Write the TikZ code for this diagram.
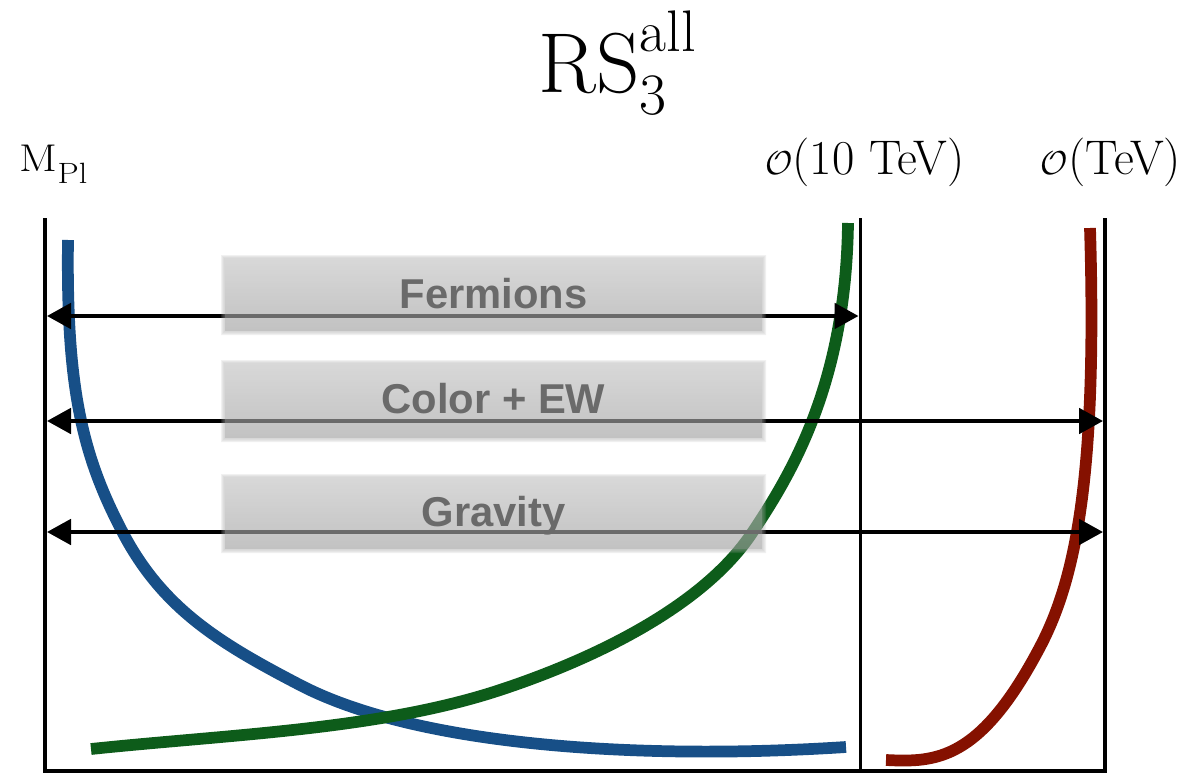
\documentclass[tikz,border=0pt]{standalone}
\usepackage{fontspec}
\newfontfamily\hvfont{Liberation Sans}
\usetikzlibrary{arrows.meta}
\definecolor{bluec}{RGB}{23,79,135}
\definecolor{greenc}{RGB}{13,92,26}
\definecolor{redc}{RGB}{133,17,0}
\definecolor{boxtop}{RGB}{194,194,194}
\definecolor{boxbot}{RGB}{160,160,160}
\definecolor{boxedge}{RGB}{165,165,165}
\definecolor{labgray}{RGB}{106,106,106}
\tikzset{
  curveline/.style={line width=8.8pt, line cap=butt},
  frameline/.style={line width=3pt, line join=miter},
  midline/.style={line width=2.25pt},
  rangearrow/.style={line width=3pt,
    {Triangle[length=18pt,width=19pt]}-{Triangle[length=18pt,width=19pt]}},
  boxcore/.style={top color=boxtop, bottom color=boxbot},
  boxring/.style={fill=boxedge, fill opacity=0.25},
  boxtext/.style={inner sep=0pt, anchor=base, text=labgray,
    font=\hvfont\bfseries\fontsize{31.3pt}{36pt}\selectfont},
  toplabel/.style={inner sep=0pt, anchor=base, font=\fontsize{36.5pt}{42pt}\selectfont},
}
\newcommand{\softbox}[4]{%
  \begin{scope}[transparency group, opacity=0.64]
    \foreach \e in {4,3,2,1}{
      \fill[boxring] (#1-\e,#2-\e+1) rectangle (#3+\e,#4+\e+1);
    }
    \shade[boxcore] (#1,#2) rectangle (#3,#4);
  \end{scope}}
\begin{document}
\begin{tikzpicture}[x=0.75pt, y=-0.75pt]
\useasboundingbox (0,0) rectangle (1192,774);

% title and scale labels
\node[inner sep=0pt, anchor=base west] (title) at (538,93)
  {\fontsize{63.75pt}{70pt}\selectfont RS\rlap{\raisebox{30.75pt}{\fontsize{44pt}{48pt}\selectfont all}}\raisebox{-16.5pt}{\fontsize{44pt}{48pt}\selectfont 3}};
\node[inner sep=0pt, anchor=base] (mpl) at (53.5,171)
  {\scalebox{1.15}[1]{\fontsize{29pt}{32pt}\selectfont M\raisebox{-9.5pt}{\fontsize{22pt}{26pt}\selectfont Pl}}};
\node[toplabel] (tentev) at (865,174) {$\mathcal{O}$(10 TeV)};
\node[toplabel] (tev) at (1111,174) {$\mathcal{O}$(TeV)};

% frame
\coordinate (L0) at (45,218);
\coordinate (L1) at (45,771);
\coordinate (R0) at (1105,218);
\coordinate (R1) at (1105,771);
\coordinate (M0) at (860,218);
\coordinate (M1) at (860,771);
\draw[frameline] (L0) -- (L1) -- (R1) -- (R0);
\draw[midline] (M0) -- (M1);

% curves
\draw[curveline, bluec] (68,240) .. controls (66,390) and (83,457) .. (123,533)
  .. controls (163,609) and (220,643.4) .. (300,685)
  .. controls (420,747.4) and (646,760) .. (846,747);
\draw[curveline, greenc] (91,749) .. controls (231,734.3) and (380,729.6) .. (500,690)
  .. controls (590,660.3) and (702,608) .. (752,533)
  .. controls (792,473) and (846,383) .. (848,223);
\draw[curveline, redc] (886,760) .. controls (936,762.5) and (980,761) .. (1040,647)
  .. controls (1075,580.5) and (1097.5,478) .. (1090,228);

% range arrows
\coordinate (a1l) at (47,316);
\coordinate (a1r) at (858.5,316);
\coordinate (a2l) at (47,421);
\coordinate (a2r) at (1103,421);
\coordinate (a3l) at (47,532);
\coordinate (a3r) at (1103,532);
\draw[rangearrow] (a1l) -- (a1r);
\draw[rangearrow] (a2l) -- (a2r);
\draw[rangearrow] (a3l) -- (a3r);

% translucent label boxes
\softbox{225}{258}{762}{330}
\softbox{225}{363}{762}{437}
\softbox{225}{477}{762}{548}
\node[boxtext] (ferm) at (493.5,308) {Fermions};
\node[boxtext] (colew) at (493.5,413) {Color + EW};
\node[boxtext] (grav) at (493.5,526) {Gravity};
\end{tikzpicture}
\end{document}
